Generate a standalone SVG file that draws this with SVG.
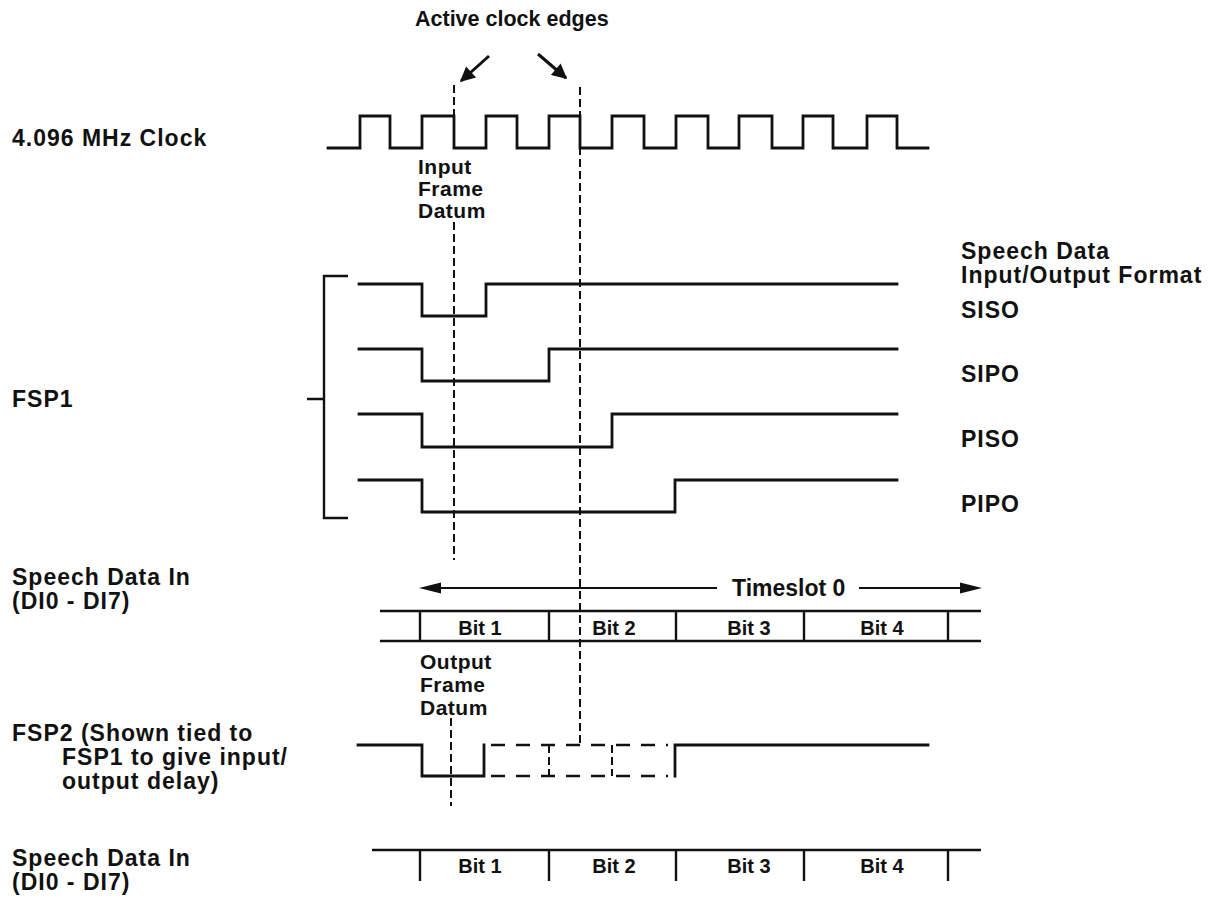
<svg xmlns="http://www.w3.org/2000/svg" width="1211" height="901" viewBox="0 0 1211 901">
<style>
text{font-family:"Liberation Sans",Arial,sans-serif;font-weight:bold;fill:#111}
.lbl{font-size:23px;letter-spacing:1px}
.ann{font-size:21px;letter-spacing:0.5px}
.bit{font-size:20px;text-anchor:middle}
.w{fill:none;stroke:#111;stroke-width:2.8;stroke-linejoin:miter;stroke-linecap:square}
.b{fill:none;stroke:#111;stroke-width:2.4}
.d{fill:none;stroke:#111;stroke-width:2;stroke-dasharray:8 4}
.dw{fill:none;stroke:#111;stroke-width:2.6;stroke-dasharray:14 11}
.a{fill:none;stroke:#111;stroke-width:3}
.t{fill:none;stroke:#111;stroke-width:1.8}
</style>
<defs>
<marker id="ah" viewBox="0 0 10 10" refX="9" refY="5" markerWidth="6" markerHeight="5" orient="auto" markerUnits="strokeWidth">
<path d="M0,0 L10,5 L0,10 z" fill="#111"/>
</marker>
</defs>
<rect width="1211" height="901" fill="#fff"/>

<g id="labels">
<text x="415" y="26" style="font-size:21.5px">Active clock edges</text>
<text class="lbl" x="12" y="146">4.096 MHz Clock</text>
<text class="lbl" x="12" y="407">FSP1</text>
<text class="lbl" x="12" y="585">Speech Data In</text>
<text class="lbl" x="12" y="609">(DI0 - DI7)</text>
<text class="lbl" x="12" y="741">FSP2 (Shown tied to</text>
<text class="lbl" x="62" y="765">FSP1 to give input/</text>
<text class="lbl" x="62" y="789">output delay)</text>
<text class="lbl" x="12" y="866">Speech Data In</text>
<text class="lbl" x="12" y="890">(DI0 - DI7)</text>
<text class="lbl" x="961" y="259">Speech Data</text>
<text class="lbl" x="961" y="283">Input/Output Format</text>
<text class="lbl" x="961" y="318">SISO</text>
<text class="lbl" x="961" y="382">SIPO</text>
<text class="lbl" x="961" y="447">PISO</text>
<text class="lbl" x="961" y="512">PIPO</text>
</g>

<g id="clock">
<path class="w" d="M328,148 H360 V116 H390 V148 H422 V116 H454 V148 H486 V116 H517 V148 H549 V116 H580 V148 H612 V116 H644 V148 H676 V116 H708 V148 H739 V116 H772 V148 H803 V116 H833 V148 H867 V116 H897 V148 H928"/>
</g>

<g id="input-datum">
<text class="ann" x="418" y="174">Input</text>
<text class="ann" x="418" y="196">Frame</text>
<text class="ann" x="418" y="218">Datum</text>
</g>

<g id="fsp1">
<path class="b" d="M348,276 H324 V518 H348 M307,399 H324"/>
<path class="w" d="M359,284 H422 V316 H486 V284 H897"/>
<path class="w" d="M359,349 H422 V381 H549 V349 H897"/>
<path class="w" d="M359,414 H422 V447 H612 V414 H897"/>
<path class="w" d="M359,480 H422 V512 H675 V480 H897"/>
</g>

<g id="timeslot">
<path class="t" d="M436,588 H717 M859,588 H966"/>
<path d="M419,588 L441,582.5 L441,593.5 z" fill="#111"/>
<path d="M982,588 L960,582.5 L960,593.5 z" fill="#111"/>
<text x="732" y="596" style="font-size:23px">Timeslot 0</text>
</g>

<g id="data-in-1">
<path class="b" d="M380,611 H981 M380,641 H981 M420,611 V641 M549,611 V641 M676,611 V641 M804,611 V641 M948,611 V641"/>
<text class="bit" x="480" y="635">Bit 1</text>
<text class="bit" x="614" y="635">Bit 2</text>
<text class="bit" x="749" y="635">Bit 3</text>
<text class="bit" x="882" y="635">Bit 4</text>
</g>

<g id="output-datum">
<text class="ann" x="420" y="669">Output</text>
<text class="ann" x="420" y="692">Frame</text>
<text class="ann" x="420" y="715">Datum</text>
</g>

<g id="fsp2">
<path class="w" d="M358,745 H422 V776 H484 V745"/>
<path class="dw" d="M491,745 H668 M491,776 H668"/>
<path class="d" d="M549,745 V776 M612,745 V776"/>
<path class="w" d="M675,776 V745 H928"/>
</g>

<g id="data-in-2">
<path class="b" d="M372,850 H981 M420,850 V881 M549,850 V881 M676,850 V881 M804,850 V881 M948,850 V881"/>
<text class="bit" x="480" y="873">Bit 1</text>
<text class="bit" x="614" y="873">Bit 2</text>
<text class="bit" x="749" y="873">Bit 3</text>
<text class="bit" x="882" y="873">Bit 4</text>
</g>

<g id="connectors">
<line class="a" x1="489" y1="56" x2="461" y2="81" marker-end="url(#ah)"/>
<line class="a" x1="538" y1="54" x2="566" y2="78" marker-end="url(#ah)"/>
<path class="d" d="M454,85 V148 M454,222 V560"/>
<path class="d" d="M580,87 V745"/>
<path class="d" d="M451,718 V806"/>
</g>
</svg>
